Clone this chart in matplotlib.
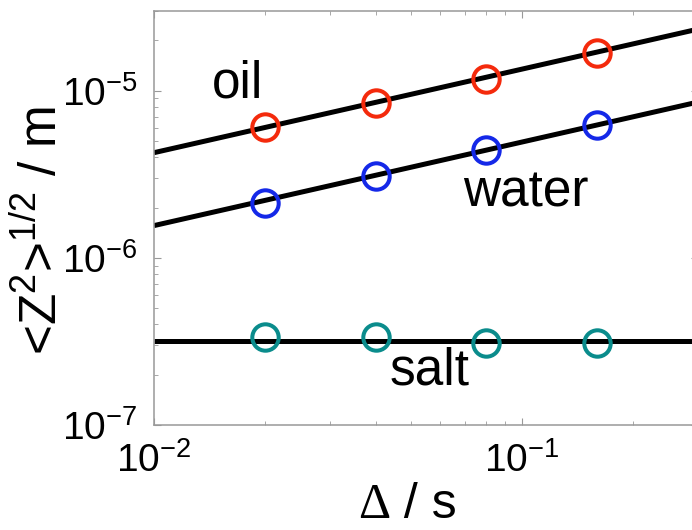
import numpy as np
import matplotlib
matplotlib.use("Agg")
import matplotlib.pyplot as plt

plt.rcParams['font.family'] = ['Liberation Sans', 'DejaVu Sans']
plt.rcParams['mathtext.fontset'] = 'custom'
plt.rcParams['mathtext.rm'] = 'Liberation Sans'
plt.rcParams['mathtext.it'] = 'Liberation Sans:italic'
plt.rcParams['mathtext.bf'] = 'Liberation Sans:bold'
plt.rcParams['axes.unicode_minus'] = False

# Data
delta = [0.02, 0.04, 0.08, 0.16]
oil = [6.1e-6, 8.4e-6, 1.17e-5, 1.68e-5]
water = [2.14e-6, 3.07e-6, 4.40e-6, 6.25e-6]
salt = [3.38e-7, 3.38e-7, 3.11e-7, 3.09e-7]

# fit lines: prefactor at Delta = 0.01 s and exponent
fit_names = ['oil', 'water', 'salt']
fit_prefactor = [4.26e-6, 1.56e-6, 3.18e-7]
fit_exponent = [0.5, 0.5, 0.0]

colors = {'oil': '#f42a0c', 'water': '#1428e8', 'salt': '#0a8c8c'}
series = {'oil': oil, 'water': water, 'salt': salt}

fig = plt.figure(figsize=(6.92, 5.30), dpi=100)
ax = fig.add_axes([154/692, 105/530, 543.6/692, 414/530])

xfit = np.logspace(-2, np.log10(0.3), 200)
for name, a, p in zip(fit_names, fit_prefactor, fit_exponent):
    ax.plot(xfit, a * (xfit / 0.01) ** p, color='black', lw=3.6, zorder=2,
            solid_capstyle='butt')

for name in fit_names:
    ax.plot(delta, series[name], linestyle='none', marker='o', ms=19,
            mfc='none', mec=colors[name], mew=2.9, zorder=3)

ax.set_xscale('log')
ax.set_yscale('log')
ax.set_xlim(0.01, 0.3)
ax.set_ylim(1e-7, 3e-5)

for s in ['left', 'bottom', 'top', 'right']:
    ax.spines[s].set_color('#999999')
    ax.spines[s].set_linewidth(1.1)

ax.tick_params(which='both', direction='in', color='#999999', top=True, right=True)
ax.tick_params(which='major', length=5, width=0.8, labelsize=28, pad=12)
ax.tick_params(which='minor', length=3, width=0.6)
ax.tick_params(axis='y', which='major', pad=12)

ax.text(0.0169, 9.1e-6, 'oil', fontsize=37, ha='center', va='baseline')
ax.text(0.1025, 2.02e-6, 'water', fontsize=37, ha='center', va='baseline')
ax.text(0.0562, 1.74e-7, 'salt', fontsize=37, ha='center', va='baseline')

fig.text(390/692, 1.5/530, 'Δ', fontsize=36, family='Liberation Serif',
         ha='right', va='bottom')
fig.text(390/692, 1.5/530, ' / s', fontsize=36, ha='left', va='bottom')

fig.text(42/692, 1 - 230/530, r'<Z$^{2}$>$^{1/2}$ / m', fontsize=37,
         rotation=90, ha='center', va='center')

fig.savefig('out.png', dpi=100)
